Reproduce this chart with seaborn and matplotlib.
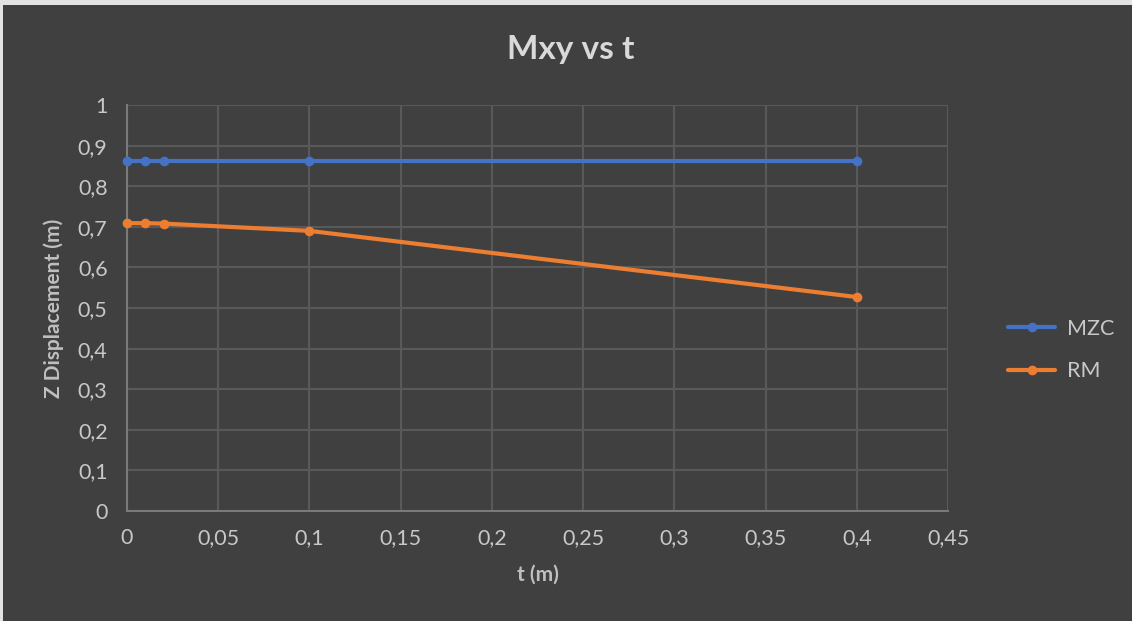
import matplotlib
matplotlib.use("Agg")
import matplotlib.pyplot as plt
from matplotlib.patches import Rectangle
import seaborn as sns
import pandas as pd

# Data
t_values = [0, 0.01, 0.02, 0.1, 0.4]
mzc_values = [0.862, 0.862, 0.862, 0.862, 0.862]
rm_values = [0.709, 0.709, 0.708, 0.690, 0.527]
series_names = ["MZC", "RM"]
x_ticks = [0, 0.05, 0.1, 0.15, 0.2, 0.25, 0.3, 0.35, 0.4, 0.45]
x_ticklabels = ["0", "0,05", "0,1", "0,15", "0,2", "0,25", "0,3", "0,35", "0,4", "0,45"]
y_ticks = [0, 0.1, 0.2, 0.3, 0.4, 0.5, 0.6, 0.7, 0.8, 0.9, 1]
y_ticklabels = ["0", "0,1", "0,2", "0,3", "0,4", "0,5", "0,6", "0,7", "0,8", "0,9", "1"]

df = pd.DataFrame({
    "t": t_values * 2,
    "z": mzc_values + rm_values,
    "series": [series_names[0]] * len(t_values) + [series_names[1]] * len(t_values),
})

sns.set_style("dark")
plt.rcParams["font.family"] = ["Lato", "DejaVu Sans"]

bg = "#404040"
fig = plt.figure(figsize=(11.32, 6.21), dpi=100, facecolor=bg)
ax = fig.add_axes([0.1122, 0.1771, 0.7253, 0.6538])
ax.set_facecolor(bg)

# light screenshot border (top & left)
fig.patches.append(Rectangle((0, 1 - 5 / 621), 1, 5 / 621, transform=fig.transFigure,
                             facecolor="#e3e3e3", edgecolor="none", zorder=10))
fig.patches.append(Rectangle((0, 0), 3 / 1132, 1, transform=fig.transFigure,
                             facecolor="#e3e3e3", edgecolor="none", zorder=10))

palette = {"MZC": "#4472C4", "RM": "#ED7D31"}
sns.lineplot(data=df, x="t", y="z", hue="series", palette=palette, marker="o",
             markersize=7, markeredgewidth=0, linewidth=3, ax=ax, zorder=3,
             clip_on=False)

ax.set_xlim(0, 0.45)
ax.set_ylim(0, 1)
ax.set_xticks(x_ticks)
ax.set_xticklabels(x_ticklabels)
ax.set_yticks(y_ticks)
ax.set_yticklabels(y_ticklabels)
ax.tick_params(axis="both", length=0, labelsize=15.5, colors="#c8c8c8")
ax.tick_params(axis="x", pad=12)
ax.tick_params(axis="y", pad=14)

ax.grid(True, color="#595959", linewidth=1.5)
for s in ["top", "right"]:
    ax.spines[s].set_visible(False)
for s in ["left", "bottom"]:
    ax.spines[s].set_color("#7a7a7a")
    ax.spines[s].set_linewidth(1.5)

ax.set_xlabel("t (m)", fontsize=15, fontweight="bold", color="#bfbfbf", labelpad=12)
ax.set_ylabel("Z Displacement (m)", fontsize=15, fontweight="bold", color="#bfbfbf", labelpad=10)

fig.text(571 / 1132, 1 - 50 / 621, "Mxy vs t", ha="center", va="center",
         fontsize=24, fontweight="bold", color="#d9d9d9")

leg = ax.legend(loc="center left", bbox_to_anchor=(1008 / 1132, 1 - 350 / 621),
                bbox_transform=fig.transFigure, frameon=False, fontsize=15.5,
                borderpad=0, borderaxespad=0, handlelength=2.2, handletextpad=0.55,
                labelspacing=1.05, title=None)
for txt in leg.get_texts():
    txt.set_color("#c8c8c8")

fig.savefig("out.png", dpi=100, facecolor=fig.get_facecolor())
